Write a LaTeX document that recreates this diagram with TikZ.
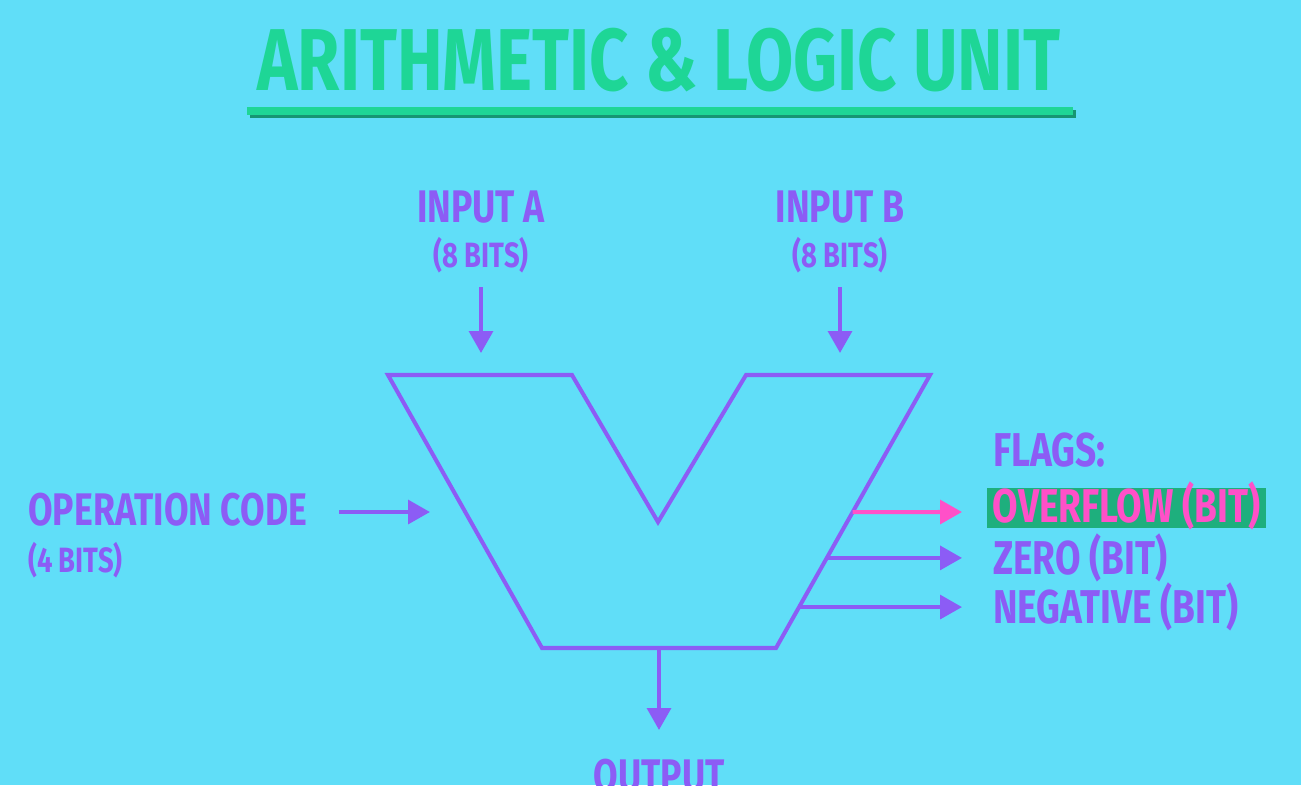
\documentclass[tikz,border=0pt]{standalone}
\usepackage{fontspec}
\setmainfont{Fira Sans}[FakeStretch=0.78]
\usetikzlibrary{calc, arrows.meta}
\definecolor{bgcyan}{RGB}{96,222,248}
\definecolor{aluviolet}{RGB}{140,92,245}
\definecolor{titlegreen}{RGB}{30,214,150}
\definecolor{titleshade}{RGB}{22,150,115}
\definecolor{flaggreen}{RGB}{30,175,125}
\definecolor{flagpink}{RGB}{255,80,200}

\tikzset{
  alutext/.style={text=aluviolet, font=\fontsize{26}{28}\selectfont\bfseries, inner sep=0pt},
  bitstext/.style={text=aluviolet, font=\fontsize{20}{22}\selectfont\bfseries, inner sep=0pt},
  flagtext/.style={alutext, anchor=west, font=\fontsize{27}{29}\selectfont\bfseries},
  titletext/.style={text=titlegreen, font=\fontsize{50}{52}\selectfont\bfseries, inner sep=0pt},
  alu/.style={draw=aluviolet, line width=2.3pt, line join=miter},
  feed/.style={draw=aluviolet, line width=2.3pt, -{Triangle[length=12.5pt, width=13.5pt]}},
}

\begin{document}
\begin{tikzpicture}[x=0.02cm, y=-0.02cm]

    % 1. Background
    \fill[bgcyan] (0,0) rectangle (1301,785);
    \useasboundingbox (0,0) rectangle (1301,785);
    \clip (0,0) rectangle (1301,785);

    % 2. Title and its rule
    \node[titletext] (title) at (659,60) {ARITHMETIC \& LOGIC UNIT};
    \draw[titleshade, line width=4pt] (250,114) -- (1076,114);
    \draw[titlegreen, line width=4pt] (247,111) -- (1073,111);

    % 3. Corner points of the ALU
    \coordinate (TL) at (388,375);
    \coordinate (TM) at (572,375);
    \coordinate (V)  at (658,522);
    \coordinate (TN) at (746,375);
    \coordinate (TR) at (930,375);
    \coordinate (BR) at (776,648);
    \coordinate (BL) at (542,648);
    \draw[alu] (TL) -- (TM) -- (V) -- (TN) -- (TR) -- (BR) -- (BL) -- cycle;

    % 4. Two inputs on top
    \node[alutext] (inA) at (481,207) {INPUT A};
    \node[bitstext] (bitsA) at (481,255) {(8 BITS)};
    \node[alutext] (inB) at (840,207) {INPUT B};
    \node[bitstext] (bitsB) at (840,255) {(8 BITS)};
    \coordinate (inAtop) at (481,287);
    \coordinate (inAend) at (481,353);
    \coordinate (inBtop) at (840,287);
    \coordinate (inBend) at (840,353);
    \draw[feed] (inAtop) -- (inAend);
    \draw[feed] (inBtop) -- (inBend);

    % 5. Operation code from the left
    \node[alutext, anchor=west] (opcode) at (28,510) {OPERATION CODE};
    \node[bitstext, anchor=west] (opbits) at (28,560) {(4 BITS)};
    \coordinate (opend) at (430,512);
    \draw[feed] (opcode.east) ++(32,2) coordinate (opstart) -- (opend);

    % 6. Flags on the right
    \node[flagtext] (flags) at (993,450) {FLAGS:};
    \node[flagtext, fill=flaggreen, text=flagpink, inner xsep=3pt, inner ysep=0.5pt,
          text height=19pt, text depth=3pt] (ovf) at (987,508) {OVERFLOW (BIT)};
    \node[flagtext] (zero) at (993,558) {ZERO (BIT)};
    \node[flagtext] (neg) at (993,607) {NEGATIVE (BIT)};

    \coordinate (ovfFrom) at ($(TR)!0.502!(BR)$);
    \draw[feed, draw=flagpink] (ovfFrom) -- (962,512);
    \foreach \flag/\t in {zero/0.670, neg/0.850} {
        \coordinate (\flag From) at ($(TR)!\t!(BR)$);
        \draw[feed] (\flag From) -- (\flag From -| 962,0);
    }

    % 7. Output below
    \coordinate (outFrom) at ($(BL)!0.5!(BR)$);
    \coordinate (outEnd) at ($(outFrom)+(0,82)$);
    \draw[feed] (outFrom) -- (outEnd);
    \node[alutext] (output) at (outFrom |- 0,776) {OUTPUT};

\end{tikzpicture}
\end{document}
